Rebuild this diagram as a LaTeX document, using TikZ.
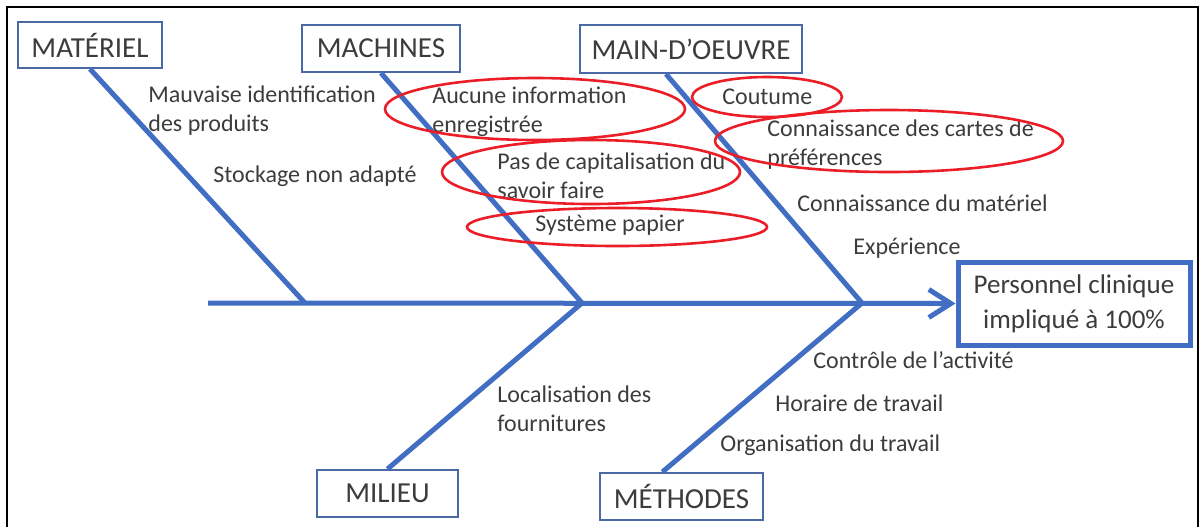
\documentclass[tikz,border=0pt]{standalone}
\usepackage{fontspec}
\setmainfont{Carlito}
\usetikzlibrary{arrows.meta}
\definecolor{boneblue}{RGB}{65,110,195}
\definecolor{boxedge}{RGB}{75,105,165}
\definecolor{ringred}{RGB}{235,30,40}
\definecolor{txtgray}{RGB}{60,60,60}
\begin{document}
\begin{tikzpicture}[x=0.5pt,y=-0.5pt,
  catbox/.style={draw=boxedge, line width=1pt, fill=white, text=txtgray, inner sep=0pt, font=\fontsize{14.5}{16}\selectfont},
  cause/.style={text=txtgray, align=left, anchor=west, inner sep=0pt, font=\fontsize{12}{14.5}\selectfont},
  bone/.style={draw=boneblue, line width=2.5pt},
  ring/.style={draw=ringred, line width=1.3pt}]
\useasboundingbox (0,0) rectangle (1199,527);
\draw[line width=1pt] (7,527) -- (7,7) -- (1198,7) -- (1198,527);

\node[catbox, minimum width=72pt, minimum height=23pt] (mat) at (90,45) {MATÉRIEL};
\node[catbox, minimum width=79pt, minimum height=23.5pt] (mac) at (381,48.5) {MACHINES};
\node[catbox, minimum width=111pt, minimum height=24pt] (mo) at (691,49) {MAIN-D'OEUVRE};
\node[catbox, minimum width=70.5pt, minimum height=23.5pt] (mil) at (387.5,493.5) {MILIEU};
\node[catbox, minimum width=81.5pt, minimum height=23.5pt] (met) at (681.5,496.5) {MÉTHODES};
\node[draw=boneblue, line width=2.5pt, fill=white, text=txtgray, align=center, inner sep=0pt,
  minimum width=116pt, minimum height=41.5pt, font=\fontsize{13.5}{17.5}\selectfont] (eff) at (1074,303.5)
  {Personnel clinique\\impliqué à 100\%};

\coordinate (tail) at (208,303);
\coordinate (j1) at (305,303);
\coordinate (j2) at (582,303);
\coordinate (j3) at (862,303);

\draw[bone, -{Straight Barb[length=11pt,width=14pt]}] (tail) -- (eff.west);
\draw[bone] (mat.south) -- (j1);
\draw[bone] (mac.south) -- (j2);
\draw[bone] (mo.225) -- (j3);
\draw[bone] (mil.north) -- (j2);
\draw[bone] (met.128) -- (j3);

\node[cause] (c1) at (148,111) {Mauvaise identification\\des produits};
\node[cause] (c2) at (213,176) {Stockage non adapté};
\node[cause] (c3) at (432,112) {Aucune information\\enregistrée};
\node[cause] (c4) at (497,176) {Pas de capitalisation du\\savoir faire};
\node[cause] (c5) at (535,225) {Système papier};
\node[cause] (c6) at (722,97) {Coutume};
\node[cause] (c7) at (767,145) {Connaissance des cartes de\\préférences};
\node[cause] (c8) at (797,203) {Connaissance du matériel};
\node[cause] (c9) at (853,248) {Expérience};
\node[cause] (c10) at (497,408.5) {Localisation des\\fournitures};
\node[cause] (c11) at (813,360) {Contrôle de l'activité};
\node[cause] (c12) at (775,403) {Horaire de travail};
\node[cause] (c13) at (720,445) {Organisation du travail};

\draw[ring] (535,109) ellipse [x radius=75pt, y radius=15.5pt];
\draw[ring] (591,172) ellipse [x radius=74.5pt, y radius=16pt];
\draw[ring] (617,227) ellipse [x radius=75pt, y radius=9.5pt];
\draw[ring] (767,97) ellipse [x radius=37.5pt, y radius=10pt];
\draw[ring] (889,141) ellipse [x radius=87pt, y radius=15.5pt];
\end{tikzpicture}
\end{document}
